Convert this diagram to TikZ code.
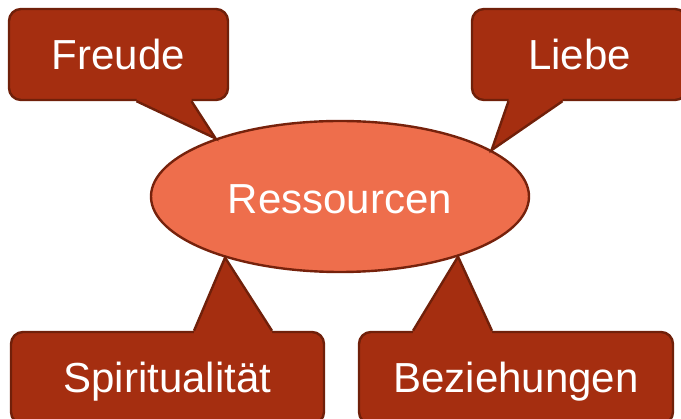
\documentclass[tikz,border=0pt]{standalone}
\usepackage{fontspec}
\setmainfont{Liberation Sans}
\usetikzlibrary{shapes.geometric}
\definecolor{boxred}{RGB}{165,46,16}
\definecolor{boxedge}{RGB}{112,32,10}
\definecolor{ovalfill}{RGB}{238,110,76}
\definecolor{ovaledge}{RGB}{118,34,12}

\begin{document}
\begin{tikzpicture}[x=1pt, y=-1pt, line width=2.4pt,
    lbl/.style={font=\fontsize{42}{50}\selectfont, text=white, text height=30pt, text depth=0pt, inner sep=0pt},
    bubble/.style={lbl, draw=boxedge, fill=boxred, rounded corners=12pt, minimum height=91pt}]
    \useasboundingbox (0,0) rectangle (681,419);
    \clip (0,0) rectangle (681,419);

    % Centre oval
    \node[ellipse, lbl, text height=35pt, draw=ovaledge, fill=ovalfill, minimum width=378pt, minimum height=151pt] (res) at (340,196.5) {Ressourcen};

    % Top callouts
    \node[bubble, minimum width=219pt] (fr) at (118.5,54.5) {Freude};
    \node[bubble, minimum width=215pt] (li) at (579.5,54.5) {Liebe};

    % Bottom callouts
    \node[bubble, minimum width=313pt, minimum height=92pt] (sp) at (167.5,378) {Spiritualität};
    \node[bubble, minimum width=314pt, minimum height=92pt] (bz) at (516,378) {Beziehungen};

    % Pointers to the oval
    \fill[boxred] ([xshift=18pt, yshift=4pt]fr.south) -- ([xshift=18pt]fr.south) -- (res.155) -- ([xshift=73pt]fr.south) -- ([xshift=73pt, yshift=4pt]fr.south) -- cycle;
    \draw[boxedge] ([xshift=18pt]fr.south) -- (res.155) -- ([xshift=73pt]fr.south);

    \fill[boxred] ([xshift=-71pt, yshift=4pt]li.south) -- ([xshift=-71pt]li.south) -- (res.17) -- ([xshift=-17pt]li.south) -- ([xshift=-17pt, yshift=4pt]li.south) -- cycle;
    \draw[boxedge] ([xshift=-71pt]li.south) -- (res.17) -- ([xshift=-17pt]li.south);

    \fill[boxred] ([xshift=26.5pt, yshift=-4pt]sp.north) -- ([xshift=26.5pt]sp.north) -- (res.208) -- ([xshift=104.5pt]sp.north) -- ([xshift=104.5pt, yshift=-4pt]sp.north) -- cycle;
    \draw[boxedge] ([xshift=26.5pt]sp.north) -- (res.208) -- ([xshift=104.5pt]sp.north);

    \fill[boxred] ([xshift=-103pt, yshift=-4pt]bz.north) -- ([xshift=-103pt]bz.north) -- (res.333) -- ([xshift=-24pt]bz.north) -- ([xshift=-24pt, yshift=-4pt]bz.north) -- cycle;
    \draw[boxedge] ([xshift=-103pt]bz.north) -- (res.333) -- ([xshift=-24pt]bz.north);
\end{tikzpicture}
\end{document}
